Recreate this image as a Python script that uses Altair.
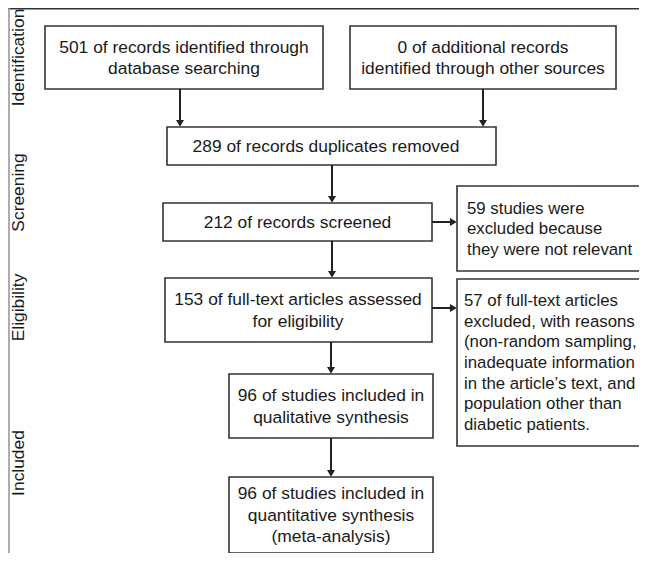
import altair as alt
import pandas as pd

# ---- content ----
phase_labels = ["Identification", "Screening", "Eligibility", "Included"]
box_texts = [
    ["501 of records identified through", "database searching"],
    ["0 of additional records", "identified through other sources"],
    ["289 of records duplicates removed"],
    ["212 of records screened"],
    ["59 studies were", "excluded because", "they were not relevant"],
    ["153 of full-text articles assessed", "for eligibility"],
    ["57 of full-text articles", "excluded, with reasons", "(non-random sampling,",
     "inadequate information", "in the article\u2019s text, and", "population other than",
     "diabetic patients."],
    ["96 of studies included in", "qualitative synthesis"],
    ["96 of studies included in", "quantitative synthesis", "(meta-analysis)"],
]
# arrows: from box -> to box
arrow_from = [0, 1, 2, 3, 3, 5, 5, 7]
arrow_to = [2, 2, 3, 5, 4, 6, 7, 8]

# ---- layout (page pixel coordinates) ----
box_x1 = [45, 350, 167, 163, 457, 165, 457, 229, 229]
box_x2 = [323, 616, 496, 432, 660, 432, 660, 433, 433]
box_y1 = [26, 26, 127, 203, 186, 278, 279, 374, 477]
box_y2 = [89, 89, 165, 241, 271, 342, 446, 438, 553]
text_x = [184, 483, 326, 297.5, 467, 298, 464, 331, 331]
text_align = ["center", "center", "center", "center", "left", "center", "left", "center", "center"]
line_h = [21.5, 21.5, 21.5, 21.5, 20.5, 21.5, 20.8, 21.5, 21.5]
arrow_x1 = [180, 483, 332, 332, 432, 331, 432, 331]
arrow_y1 = [89, 89, 165, 241, 222, 342, 308, 438]
arrow_x2 = [180, 483, 332, 332, 457, 331, 457, 331]
arrow_y2 = [127, 127, 203, 278, 222, 374, 308, 477]
phase_x = 19
phase_y = [57.5, 192.5, 307.5, 463]

X0, X1 = 8, 639
Y0, Y1 = 8, 553
W, H = X1 - X0, Y1 - Y0
FONT = "Liberation Sans"
FS = 17.4
FS_SIDE = 16.8

xs = alt.Scale(domain=[X0, X1], nice=False, zero=False)
ys = alt.Scale(domain=[Y0, Y1], nice=False, zero=False, reverse=True)

centers = [(a + b) / 2 for a, b in zip(box_y1, box_y2)]
boxes = pd.DataFrame({
    "x1": box_x1, "x2": box_x2, "y1": box_y1, "y2": box_y2,
    "tx": text_x,
    "ty": [c - (len(t) - 1) / 2 * lh + 0.8 for c, t, lh in zip(centers, box_texts, line_h)],
    "label": ["\n".join(t) for t in box_texts], "align": text_align,
})

arrows = pd.DataFrame({"x1": arrow_x1, "y1": arrow_y1, "x2": arrow_x2, "y2": arrow_y2,
                       "src": arrow_from, "dst": arrow_to})
HEAD = 3.6
horiz = [x2 != x1 for x1, x2 in zip(arrow_x1, arrow_x2)]
arrows["hx"] = [x2 - HEAD if h else x2 for h, x2 in zip(horiz, arrow_x2)]
arrows["hy"] = [y2 - HEAD if not h else y2 for h, y2 in zip(horiz, arrow_y2)]
arrows["shape"] = ["triangle-right" if h else "triangle-down" for h in horiz]
arrows["sx2"] = [x2 - 4 if h else x2 for h, x2 in zip(horiz, arrow_x2)]
arrows["sy2"] = [y2 - 4 if not h else y2 for h, y2 in zip(horiz, arrow_y2)]

phases = pd.DataFrame({"label": phase_labels, "x": [phase_x] * 4, "y": phase_y})

frame = pd.DataFrame({"x1": [8, 9], "x2": [660, 9], "y1": [8.8, 8], "y2": [8.8, 570],
                      "c": ["#333333", "#999999"]})

X = lambda f: alt.X(f, scale=xs, axis=None)
Y = lambda f: alt.Y(f, scale=ys, axis=None)

frame_layer = alt.Chart(frame).mark_rule(strokeWidth=1.6, clip=False).encode(
    x=X("x1:Q"), x2="x2:Q", y=Y("y1:Q"), y2="y2:Q",
    color=alt.Color("c:N", scale=None))

rects = alt.Chart(boxes).mark_rect(fill="white", stroke="#333333", strokeWidth=1.6).encode(
    x=X("x1:Q"), x2="x2:Q", y=Y("y1:Q"), y2="y2:Q")

txt_c = alt.Chart(boxes).transform_filter(alt.datum.align == "center").mark_text(
    align="center", baseline="middle", lineBreak="\n", lineHeight=21.5,
    font=FONT, fontSize=FS, color="#1a1a1a").encode(
    x=X("tx:Q"), y=Y("ty:Q"), text="label:N")

txt_l = alt.Chart(boxes).transform_filter(alt.datum.align == "left").mark_text(
    align="left", baseline="middle", lineBreak="\n", lineHeight=20.7,
    font=FONT, fontSize=FS_SIDE, color="#1a1a1a").encode(
    x=X("tx:Q"), y=Y("ty:Q"), text="label:N")

shafts = alt.Chart(arrows).mark_rule(strokeWidth=2, color="#222222").encode(
    x=X("x1:Q"), x2="sx2:Q", y=Y("y1:Q"), y2="sy2:Q")

heads = alt.Chart(arrows).mark_point(filled=True, size=64, opacity=1, color="#222222").encode(
    x=X("hx:Q"), y=Y("hy:Q"), shape=alt.Shape("shape:N", scale=None))

phase_layer = alt.Chart(phases).mark_text(
    angle=270, align="center", baseline="middle", font=FONT, fontSize=FS,
    color="#1a1a1a").encode(x=X("x:Q"), y=Y("y:Q"), text="label:N")

chart = alt.layer(frame_layer, rects, shafts, heads, txt_c, txt_l, phase_layer).properties(
    width=W, height=H, padding=0, autosize=alt.AutoSizeParams(type="none")
).configure_view(stroke=None)

chart.save("out.html", embed_options={"renderer": "svg", "actions": False})
